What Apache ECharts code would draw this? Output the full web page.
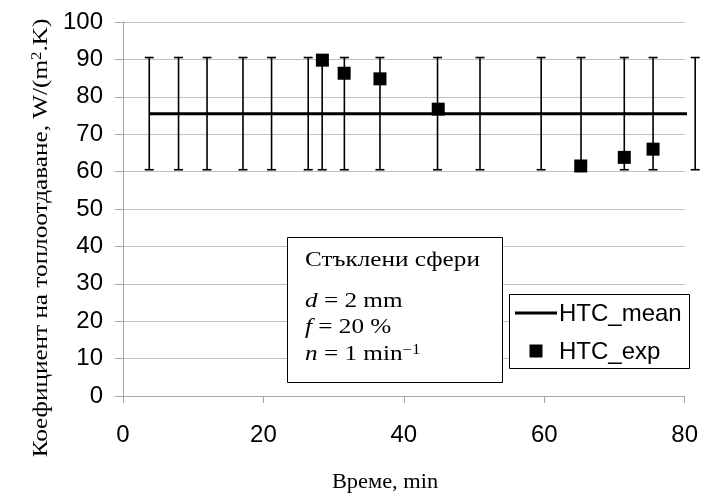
<!DOCTYPE html>
<html>
<head>
<meta charset="utf-8">
<script src="https://cdn.jsdelivr.net/npm/echarts@6/dist/echarts.min.js"></script>
<style>html,body{margin:0;padding:0;background:#fff;}#c{width:701px;height:493px;}</style>
</head>
<body>
<div id="c"></div>
<script>
// ---- data ----
var xTicks = [0, 20, 40, 60, 80];
var yTicks = [0, 10, 20, 30, 40, 50, 60, 70, 80, 90, 100];
var meanX = [3.74, 7.91, 11.97, 17.09, 21.16, 26.38, 28.37, 31.53, 36.6, 44.8, 50.85, 59.56, 65.24, 71.4, 75.5, 81.5];
var meanValue = 75.5;
var meanError = 15;
var expX = [28.4, 31.5, 36.6, 44.9, 65.2, 71.4, 75.5];
var expY = [89.8, 86.3, 84.8, 76.7, 61.5, 63.8, 66.0];
var seriesNames = ['HTC_mean', 'HTC_exp'];

var SANS = 'Liberation Sans, Arial, sans-serif';
var SERIF = 'Liberation Serif, Times New Roman, serif';
var SX = 1.2; // horizontal stretch of serif texts

var chart = echarts.init(document.getElementById('c'), null, {renderer: 'canvas'});

var meanData = meanX.map(function (x) { return [x, meanValue]; });
var errData = meanX.map(function (x) { return [x, meanValue - meanError, meanValue + meanError]; });
var expData = expX.map(function (x, i) { return [x, expY[i]]; });

function errorBar(params, api) {
  var x = api.value(0);
  var top = api.coord([x, api.value(2)]);
  var bot = api.coord([x, api.value(1)]);
  var hw = 4.5;
  var st = {stroke: '#000', lineWidth: 1.6};
  return {
    type: 'group',
    children: [
      {type: 'line', shape: {x1: top[0], y1: top[1], x2: bot[0], y2: bot[1]}, style: st},
      {type: 'line', shape: {x1: top[0] - hw, y1: top[1], x2: top[0] + hw, y2: top[1]}, style: st},
      {type: 'line', shape: {x1: bot[0] - hw, y1: bot[1], x2: bot[0] + hw, y2: bot[1]}, style: st}
    ]
  };
}

var italic = {fontSize: 21, fontFamily: SERIF, fontStyle: 'italic', fill: '#000'};
var sup = {fontSize: 14, fontFamily: SERIF, verticalAlign: 'top', fill: '#000'};

var option = {
  backgroundColor: '#fff',
  animation: false,
  grid: {left: 123, right: 14.3, top: 22, bottom: 97, containLabel: false},
  xAxis: {
    type: 'value', min: xTicks[0], max: xTicks[xTicks.length - 1], interval: 20,
    axisLine: {show: true, lineStyle: {color: '#a6a6a6', width: 1}},
    axisTick: {show: true, inside: false, length: 7, lineStyle: {color: '#a6a6a6'}},
    axisLabel: {fontSize: 24, fontFamily: SANS, color: '#000', margin: 27},
    splitLine: {show: false}
  },
  yAxis: {
    type: 'value', min: yTicks[0], max: yTicks[yTicks.length - 1], interval: 10,
    axisLine: {show: true, lineStyle: {color: '#a6a6a6', width: 1}},
    axisTick: {show: true, inside: false, length: 8, lineStyle: {color: '#a6a6a6'}},
    axisLabel: {fontSize: 24, fontFamily: SANS, color: '#000', margin: 20},
    splitLine: {show: true, lineStyle: {color: '#c0c0c0', width: 1}}
  },
  series: [
    {
      type: 'custom', name: 'errors', data: errData, renderItem: errorBar, clip: false, z: 2,
      encode: {x: 0, y: [1, 2]}
    },
    {
      type: 'line', name: seriesNames[0], data: meanData, symbol: 'none', clip: true, z: 3,
      lineStyle: {color: '#000', width: 3}
    },
    {
      type: 'scatter', name: seriesNames[1], data: expData, symbol: 'rect', symbolSize: 13, z: 4,
      itemStyle: {color: '#000', opacity: 1}
    }
  ],
  graphic: [
    // y axis title
    {
      type: 'text', x: 41, y: 238, rotation: Math.PI / 2, scaleX: SX, z: 10,
      style: {
        text: 'Коефициент на топлоотдаване, W/(m{sup|2}.K)',
        fontSize: 21, fontFamily: SERIF, fill: '#000',
        align: 'center', verticalAlign: 'middle',
        rich: {sup: sup}
      }
    },
    // x axis title
    {
      type: 'text', x: 385, y: 483, scaleX: 1.12, z: 10,
      style: {text: 'Време, min', fontSize: 20, fontFamily: SERIF, fill: '#000', align: 'center', verticalAlign: 'middle'}
    },
    // annotation box
    {
      type: 'rect', shape: {x: 287.5, y: 237.5, width: 215, height: 145}, z: 20,
      style: {fill: '#fff', stroke: '#000', lineWidth: 1}
    },
    {
      type: 'text', x: 305, y: 260, scaleX: SX, z: 21,
      style: {text: 'Стъклени сфери', fontSize: 21, fontFamily: SERIF, fill: '#000', align: 'left', verticalAlign: 'middle'}
    },
    {
      type: 'text', x: 305, y: 301, scaleX: SX, z: 21,
      style: {text: '{i|d} = 2 mm', fontSize: 21, fontFamily: SERIF, fill: '#000', align: 'left', verticalAlign: 'middle',
        rich: {i: italic}}
    },
    {
      type: 'text', x: 305, y: 327, scaleX: SX, z: 21,
      style: {text: '{i|f} = 20 %', fontSize: 21, fontFamily: SERIF, fill: '#000', align: 'left', verticalAlign: 'middle',
        rich: {i: italic}}
    },
    {
      type: 'text', x: 305, y: 354, scaleX: SX, z: 21,
      style: {text: '{i|n} = 1 min{sup|−1}', fontSize: 21, fontFamily: SERIF, fill: '#000', align: 'left', verticalAlign: 'middle',
        rich: {i: italic, sup: sup}}
    },
    // legend
    {
      type: 'rect', shape: {x: 509.5, y: 294.5, width: 180, height: 74}, z: 20,
      style: {fill: '#fff', stroke: '#000', lineWidth: 1}
    },
    {
      type: 'line', shape: {x1: 515, y1: 313, x2: 557, y2: 313}, z: 21,
      style: {stroke: '#000', lineWidth: 3}
    },
    {
      type: 'text', x: 559, y: 314, z: 21,
      style: {text: seriesNames[0], fontSize: 24, fontFamily: SANS, fill: '#000', align: 'left', verticalAlign: 'middle'}
    },
    {
      type: 'rect', shape: {x: 529.5, y: 344.5, width: 13, height: 13}, z: 21,
      style: {fill: '#000'}
    },
    {
      type: 'text', x: 559, y: 352, z: 21,
      style: {text: seriesNames[1], fontSize: 24, fontFamily: SANS, fill: '#000', align: 'left', verticalAlign: 'middle'}
    }
  ]
};
chart.setOption(option);
</script>
</body>
</html>
